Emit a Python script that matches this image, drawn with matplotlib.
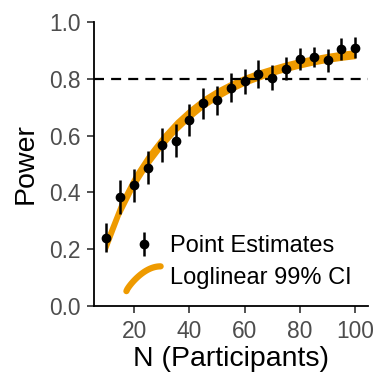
import numpy as np
import matplotlib
matplotlib.use("Agg")
import matplotlib.pyplot as plt
from matplotlib.legend_handler import HandlerBase
from matplotlib.lines import Line2D

plt.rcParams['font.family'] = ['Liberation Sans', 'DejaVu Sans']

# simulated power, point estimates with interval
n_part = [10, 15, 20, 25, 30, 35, 40, 45, 50, 55, 60, 65, 70, 75, 80, 85, 90, 95, 100]
power = [0.241, 0.384, 0.425, 0.487, 0.567, 0.582, 0.655, 0.714, 0.724, 0.769,
         0.792, 0.817, 0.803, 0.836, 0.870, 0.876, 0.865, 0.904, 0.910]
power_err = [0.050, 0.059, 0.059, 0.058, 0.060, 0.059, 0.056, 0.055, 0.050, 0.050,
             0.044, 0.048, 0.044, 0.041, 0.040, 0.036, 0.041, 0.038, 0.036]

# loglinear fit, 99% CI band
ci_lower = [0.190, 0.317, 0.414, 0.490, 0.554, 0.609, 0.655, 0.695, 0.727, 0.754,
            0.777, 0.795, 0.812, 0.826, 0.838, 0.849, 0.858, 0.865, 0.871]
ci_upper = [0.250, 0.373, 0.466, 0.540, 0.602, 0.655, 0.699, 0.737, 0.767, 0.792,
            0.813, 0.831, 0.846, 0.860, 0.872, 0.881, 0.890, 0.897, 0.903]

target = 0.8
orange = '#EE9A00'


class CurveHandler(HandlerBase):
    # legend key drawn as a short bent stroke
    def create_artists(self, legend, orig_handle, xdescent, ydescent,
                       width, height, fontsize, trans):
        t = np.linspace(0, 1, 40)
        x = -xdescent + width * t
        y = -ydescent + height * (-0.45 + 1.5 * np.sin(t * np.pi / 2) ** 0.8)
        line = Line2D(x, y, color=orange, lw=4.5, solid_capstyle='round')
        line.set_transform(trans)
        return [line]


fig = plt.figure(figsize=(3.75, 3.75), dpi=100)
ax = fig.add_axes([0.2507, 0.184, 0.7298, 0.7573])

band = ax.fill_between(n_part, ci_lower, ci_upper, color=orange, lw=0, zorder=2)
ax.axhline(target, color='black', lw=1.6, ls=(0, (4.5, 3.2)), zorder=3)
pts = ax.errorbar(n_part, power, yerr=power_err, fmt='o', color='black',
                  ms=6, elinewidth=1.8, capsize=0, zorder=4)

ax.set_xlim(5.5, 104.5)
ax.set_ylim(0, 1)
ax.set_xticks([20, 40, 60, 80, 100])
ax.set_yticks([0.0, 0.2, 0.4, 0.6, 0.8, 1.0])
ax.set_yticklabels(['0.0', '0.2', '0.4', '0.6', '0.8', '1.0'])

for s in ['top', 'right']:
    ax.spines[s].set_visible(False)
for s in ['left', 'bottom']:
    ax.spines[s].set_linewidth(1.3)
    ax.spines[s].set_color('black')

ax.tick_params(axis='both', length=4.8, width=1.2, color='#333333',
               labelcolor='#4D4D4D', labelsize=16.4)
ax.tick_params(axis='y', pad=4.5)
ax.tick_params(axis='x', pad=5.5)

ax.set_xlabel('N (Participants)', fontsize=20.5, labelpad=2)
ax.set_ylabel('Power', fontsize=20.5, labelpad=8)

leg = ax.legend([pts, band], ['Point Estimates', 'Loglinear 99% CI'],
                handler_map={type(band): CurveHandler()},
                loc='center', bbox_to_anchor=(0.53, 0.155), frameon=False,
                fontsize=17, handlelength=1.45, handleheight=0.7,
                handletextpad=0.4, labelspacing=0.4, borderpad=0)

fig.savefig('out.png', dpi=100)
